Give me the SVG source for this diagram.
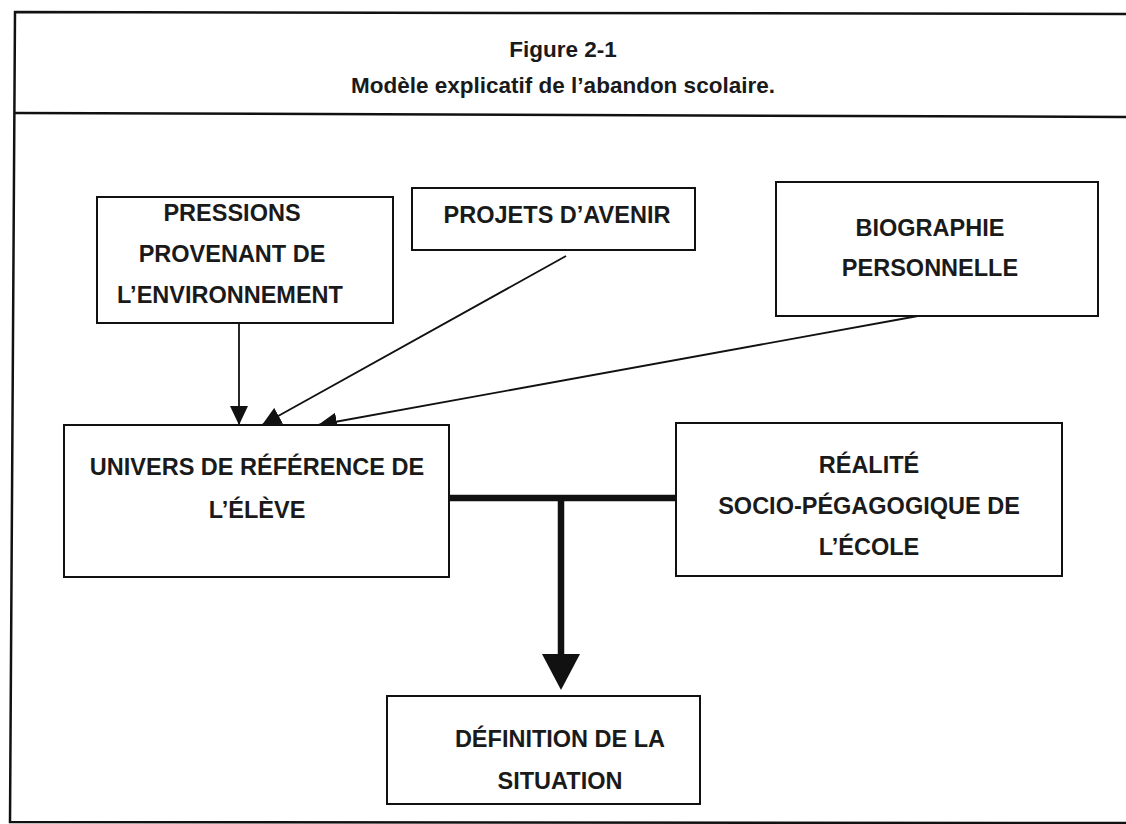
<svg xmlns="http://www.w3.org/2000/svg" width="1126" height="824" viewBox="0 0 1126 824">
<defs>
<style>
.frame{fill:none;stroke:#111;stroke-width:2.5}
.box{fill:#fff;stroke:#111;stroke-width:2}
.t{font-family:"Liberation Sans",Arial,sans-serif;font-size:23.5px;font-weight:bold;fill:#1a1a1a;text-anchor:middle}
.title{font-family:"Liberation Sans",Arial,sans-serif;font-size:22.5px;font-weight:bold;fill:#1a1a1a;text-anchor:middle}
.thin{fill:none;stroke:#111;stroke-width:1.8}
.thick{fill:none;stroke:#111;stroke-width:6.5}
</style>
<marker id="ah" markerUnits="userSpaceOnUse" markerWidth="19" markerHeight="18" viewBox="0 0 19 18" refX="19" refY="9" orient="auto">
<path d="M0,0 L19,9 L0,18 Z" fill="#111"/>
</marker>
</defs>
<rect width="1126" height="824" fill="#fff"/>
<g id="frame">
<path class="frame" d="M1126,14 L15,12 L10,822 L1126,823"/>
<path class="frame" d="M15,113 L1126,117"/>
<text class="title" x="563" y="57">Figure 2-1</text>
<text class="title" x="563" y="93">Modèle explicatif de l’abandon scolaire.</text>
</g>
<g id="connectors">
<line class="thin" x1="239" y1="323" x2="239" y2="425" marker-end="url(#ah)"/>
<line class="thin" x1="566" y1="256" x2="262" y2="425" marker-end="url(#ah)"/>
<line class="thin" x1="918" y1="316" x2="318" y2="425" marker-end="url(#ah)"/>
<line class="thick" x1="449" y1="498" x2="676" y2="498"/>
<line class="thick" x1="561" y1="498" x2="561" y2="656"/>
<polygon points="542,654 580,654 561,690" fill="#111"/>
</g>
<g id="pressions">
<rect class="box" x="97" y="197" width="296" height="126"/>
<text class="t" x="232" y="221">PRESSIONS</text>
<text class="t" x="232" y="262">PROVENANT DE</text>
<text class="t" x="230" y="303">L’ENVIRONNEMENT</text>
</g>
<g id="projets">
<rect class="box" x="412" y="188" width="283" height="62"/>
<text class="t" x="557" y="223">PROJETS D’AVENIR</text>
</g>
<g id="biographie">
<rect class="box" x="776" y="182" width="322" height="134"/>
<text class="t" x="930" y="236">BIOGRAPHIE</text>
<text class="t" x="930" y="276">PERSONNELLE</text>
</g>
<g id="univers">
<rect class="box" x="64" y="425" width="385" height="152"/>
<text class="t" x="257" y="475">UNIVERS DE RÉFÉRENCE DE</text>
<text class="t" x="257" y="518">L’ÉLÈVE</text>
</g>
<g id="realite">
<rect class="box" x="676" y="423" width="386" height="153"/>
<text class="t" x="869" y="473">RÉALITÉ</text>
<text class="t" x="869" y="514">SOCIO-PÉGAGOGIQUE DE</text>
<text class="t" x="869" y="555">L’ÉCOLE</text>
</g>
<g id="definition">
<rect class="box" x="387" y="696" width="313" height="108"/>
<text class="t" x="560" y="747">DÉFINITION DE LA</text>
<text class="t" x="560" y="789">SITUATION</text>
</g>
</svg>
